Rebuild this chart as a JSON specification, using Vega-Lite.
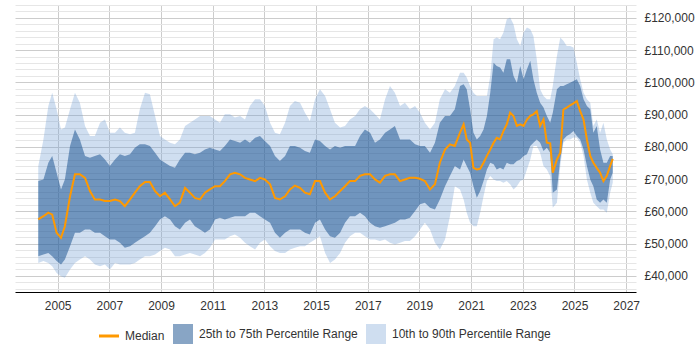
{
  "$schema": "https://vega.github.io/schema/vega-lite/v6.json",
  "width": 621,
  "height": 287,
  "autosize": {"type": "none"},
  "padding": {"left": 15, "top": 5, "right": 64, "bottom": 58},
  "background": "white",
  "config": {
    "view": {"stroke": null},
    "font": "Liberation Sans",
    "axisY": {
      "orient": "right",
      "grid": true,
      "domain": false,
      "ticks": false,
      "labelPadding": 8,
      "labelFontSize": 12,
      "labelColor": "#333333",
      "labelOverlap": false,
      "labelBound": false,
      "labelFlush": false,
      "zindex": 0
    }
  },
  "data": {
    "values": [
      {"t": 2004.25, "p10": 44000, "p25": 46100, "p50": 57500, "p75": 69400, "p90": 74000},
      {"t": 2004.45, "p10": 44600, "p25": 46600, "p50": 58500, "p75": 69900, "p90": 82300},
      {"t": 2004.64, "p10": 44000, "p25": 47100, "p50": 59600, "p75": 75100, "p90": 92700},
      {"t": 2004.79, "p10": 43000, "p25": 46100, "p50": 59000, "p75": 77200, "p90": 96800},
      {"t": 2004.96, "p10": 40900, "p25": 44600, "p50": 53400, "p75": 72000, "p90": 91700},
      {"t": 2005.13, "p10": 39900, "p25": 43500, "p50": 51800, "p75": 66800, "p90": 85400},
      {"t": 2005.28, "p10": 39400, "p25": 45100, "p50": 55400, "p75": 69900, "p90": 86000},
      {"t": 2005.48, "p10": 42000, "p25": 49200, "p50": 64700, "p75": 80300, "p90": 91700},
      {"t": 2005.67, "p10": 44000, "p25": 53400, "p50": 71500, "p75": 85400, "p90": 96800},
      {"t": 2005.86, "p10": 45100, "p25": 53400, "p50": 71500, "p75": 82300, "p90": 93700},
      {"t": 2006.06, "p10": 46100, "p25": 54400, "p50": 70400, "p75": 77200, "p90": 86500},
      {"t": 2006.25, "p10": 45100, "p25": 54400, "p50": 66300, "p75": 76600, "p90": 83400},
      {"t": 2006.44, "p10": 43500, "p25": 53400, "p50": 63700, "p75": 77200, "p90": 83400},
      {"t": 2006.64, "p10": 43000, "p25": 53400, "p50": 63700, "p75": 77700, "p90": 87500},
      {"t": 2006.83, "p10": 43500, "p25": 52300, "p50": 63200, "p75": 76100, "p90": 88500},
      {"t": 2007.02, "p10": 42000, "p25": 51300, "p50": 63200, "p75": 74100, "p90": 84400},
      {"t": 2007.22, "p10": 44000, "p25": 51300, "p50": 63700, "p75": 76100, "p90": 84400},
      {"t": 2007.41, "p10": 43500, "p25": 50300, "p50": 63200, "p75": 77700, "p90": 86000},
      {"t": 2007.6, "p10": 43500, "p25": 48700, "p50": 61600, "p75": 77200, "p90": 84400},
      {"t": 2007.8, "p10": 43500, "p25": 49200, "p50": 63700, "p75": 77700, "p90": 83900},
      {"t": 2007.99, "p10": 44000, "p25": 50300, "p50": 65800, "p75": 79700, "p90": 84400},
      {"t": 2008.18, "p10": 45100, "p25": 51300, "p50": 67800, "p75": 80800, "p90": 91700},
      {"t": 2008.38, "p10": 46100, "p25": 52300, "p50": 69100, "p75": 80800, "p90": 96800},
      {"t": 2008.57, "p10": 46100, "p25": 53400, "p50": 69100, "p75": 80300, "p90": 96300},
      {"t": 2008.77, "p10": 46600, "p25": 55400, "p50": 66300, "p75": 78200, "p90": 89600},
      {"t": 2008.96, "p10": 47700, "p25": 57500, "p50": 64700, "p75": 76100, "p90": 83400},
      {"t": 2009.15, "p10": 48700, "p25": 58500, "p50": 65800, "p75": 75100, "p90": 82300},
      {"t": 2009.35, "p10": 48200, "p25": 57500, "p50": 63700, "p75": 74100, "p90": 81300},
      {"t": 2009.54, "p10": 46100, "p25": 55400, "p50": 61600, "p75": 73500, "p90": 80800},
      {"t": 2009.73, "p10": 46100, "p25": 54400, "p50": 62700, "p75": 76100, "p90": 82300},
      {"t": 2009.93, "p10": 46600, "p25": 56500, "p50": 67300, "p75": 78200, "p90": 86500},
      {"t": 2010.12, "p10": 47100, "p25": 57500, "p50": 65800, "p75": 78200, "p90": 87500},
      {"t": 2010.31, "p10": 46600, "p25": 55400, "p50": 64200, "p75": 77700, "p90": 88500},
      {"t": 2010.51, "p10": 46100, "p25": 54400, "p50": 63700, "p75": 78200, "p90": 89600},
      {"t": 2010.7, "p10": 47100, "p25": 53400, "p50": 65800, "p75": 79200, "p90": 89600},
      {"t": 2010.89, "p10": 48700, "p25": 54400, "p50": 66800, "p75": 79700, "p90": 89600},
      {"t": 2011.09, "p10": 51300, "p25": 57500, "p50": 67800, "p75": 79200, "p90": 88500},
      {"t": 2011.28, "p10": 51300, "p25": 58000, "p50": 67800, "p75": 78700, "p90": 87500},
      {"t": 2011.47, "p10": 51300, "p25": 57500, "p50": 69400, "p75": 80300, "p90": 90100},
      {"t": 2011.67, "p10": 52300, "p25": 58000, "p50": 71500, "p75": 82300, "p90": 90100},
      {"t": 2011.86, "p10": 52800, "p25": 58500, "p50": 72000, "p75": 81800, "p90": 89100},
      {"t": 2012.06, "p10": 51800, "p25": 58500, "p50": 71500, "p75": 81300, "p90": 89600},
      {"t": 2012.25, "p10": 50300, "p25": 58500, "p50": 70400, "p75": 82300, "p90": 88500},
      {"t": 2012.44, "p10": 49200, "p25": 59600, "p50": 69900, "p75": 81300, "p90": 92700},
      {"t": 2012.64, "p10": 48200, "p25": 59600, "p50": 69400, "p75": 82800, "p90": 94800},
      {"t": 2012.83, "p10": 50300, "p25": 58500, "p50": 70400, "p75": 83400, "p90": 94800},
      {"t": 2013.02, "p10": 51300, "p25": 57500, "p50": 69900, "p75": 81800, "p90": 92700},
      {"t": 2013.22, "p10": 49200, "p25": 56500, "p50": 68400, "p75": 80300, "p90": 87500},
      {"t": 2013.41, "p10": 47700, "p25": 53400, "p50": 64200, "p75": 77200, "p90": 84400},
      {"t": 2013.6, "p10": 47100, "p25": 51800, "p50": 63700, "p75": 75600, "p90": 83900},
      {"t": 2013.8, "p10": 47100, "p25": 53400, "p50": 64700, "p75": 77200, "p90": 87500},
      {"t": 2013.99, "p10": 48200, "p25": 54400, "p50": 66800, "p75": 80300, "p90": 92700},
      {"t": 2014.18, "p10": 48700, "p25": 54400, "p50": 68000, "p75": 80300, "p90": 94200},
      {"t": 2014.38, "p10": 49200, "p25": 54400, "p50": 67300, "p75": 79700, "p90": 93700},
      {"t": 2014.57, "p10": 49200, "p25": 53400, "p50": 65800, "p75": 78700, "p90": 90600},
      {"t": 2014.76, "p10": 50300, "p25": 52800, "p50": 65300, "p75": 78200, "p90": 88000},
      {"t": 2014.96, "p10": 51300, "p25": 56500, "p50": 69400, "p75": 82300, "p90": 94800},
      {"t": 2015.15, "p10": 52300, "p25": 57500, "p50": 69400, "p75": 81800, "p90": 97900},
      {"t": 2015.35, "p10": 47100, "p25": 54400, "p50": 65800, "p75": 80300, "p90": 95800},
      {"t": 2015.54, "p10": 44000, "p25": 52300, "p50": 63700, "p75": 79200, "p90": 91700},
      {"t": 2015.73, "p10": 45100, "p25": 51800, "p50": 64700, "p75": 80300, "p90": 87500},
      {"t": 2015.93, "p10": 47100, "p25": 53400, "p50": 66300, "p75": 79700, "p90": 86000},
      {"t": 2016.12, "p10": 50300, "p25": 56500, "p50": 67800, "p75": 80300, "p90": 86500},
      {"t": 2016.31, "p10": 52300, "p25": 58500, "p50": 69400, "p75": 80300, "p90": 88500},
      {"t": 2016.51, "p10": 53400, "p25": 58500, "p50": 69400, "p75": 80300, "p90": 89600},
      {"t": 2016.7, "p10": 53400, "p25": 59600, "p50": 71000, "p75": 83400, "p90": 91700},
      {"t": 2016.89, "p10": 52300, "p25": 58500, "p50": 71500, "p75": 85400, "p90": 92700},
      {"t": 2017.09, "p10": 51300, "p25": 56500, "p50": 71500, "p75": 84400, "p90": 91700},
      {"t": 2017.28, "p10": 51300, "p25": 55400, "p50": 69900, "p75": 81300, "p90": 90100},
      {"t": 2017.47, "p10": 50800, "p25": 54900, "p50": 68900, "p75": 82300, "p90": 88500},
      {"t": 2017.67, "p10": 51300, "p25": 55400, "p50": 71000, "p75": 84400, "p90": 94800},
      {"t": 2017.86, "p10": 50300, "p25": 55900, "p50": 71500, "p75": 85400, "p90": 98900},
      {"t": 2018.05, "p10": 49700, "p25": 56500, "p50": 71500, "p75": 86500, "p90": 96800},
      {"t": 2018.25, "p10": 50300, "p25": 57500, "p50": 69400, "p75": 82300, "p90": 92700},
      {"t": 2018.44, "p10": 50800, "p25": 57500, "p50": 69900, "p75": 82300, "p90": 93700},
      {"t": 2018.63, "p10": 50800, "p25": 58000, "p50": 70400, "p75": 82300, "p90": 91700},
      {"t": 2018.83, "p10": 52300, "p25": 60100, "p50": 70400, "p75": 80800, "p90": 92700},
      {"t": 2019.02, "p10": 54400, "p25": 62200, "p50": 70100, "p75": 80300, "p90": 90600},
      {"t": 2019.21, "p10": 56500, "p25": 62700, "p50": 69400, "p75": 80300, "p90": 87500},
      {"t": 2019.41, "p10": 54400, "p25": 61100, "p50": 66800, "p75": 78200, "p90": 85400},
      {"t": 2019.6, "p10": 50300, "p25": 60600, "p50": 68400, "p75": 81300, "p90": 87500},
      {"t": 2019.79, "p10": 48200, "p25": 63700, "p50": 75100, "p75": 87500, "p90": 94800},
      {"t": 2019.99, "p10": 51300, "p25": 67800, "p50": 79200, "p75": 89600, "p90": 97900},
      {"t": 2020.18, "p10": 58500, "p25": 71000, "p50": 80800, "p75": 89600, "p90": 96800},
      {"t": 2020.37, "p10": 67800, "p25": 74100, "p50": 80300, "p75": 91700, "p90": 98900},
      {"t": 2020.57, "p10": 66800, "p25": 73000, "p50": 84400, "p75": 98900, "p90": 103000},
      {"t": 2020.71, "p10": 63700, "p25": 76100, "p50": 87000, "p75": 99400, "p90": 103000},
      {"t": 2020.83, "p10": 59600, "p25": 74100, "p50": 82300, "p75": 97900, "p90": 101500},
      {"t": 2020.96, "p10": 56500, "p25": 72000, "p50": 81300, "p75": 91700, "p90": 98900},
      {"t": 2021.09, "p10": 55400, "p25": 67800, "p50": 73500, "p75": 84400, "p90": 96800},
      {"t": 2021.22, "p10": 55400, "p25": 64200, "p50": 73000, "p75": 82300, "p90": 95800},
      {"t": 2021.35, "p10": 59600, "p25": 66300, "p50": 73200, "p75": 83400, "p90": 95800},
      {"t": 2021.48, "p10": 64700, "p25": 69400, "p50": 75100, "p75": 85400, "p90": 95800},
      {"t": 2021.61, "p10": 69400, "p25": 73000, "p50": 77200, "p75": 89600, "p90": 95800},
      {"t": 2021.74, "p10": 71000, "p25": 75100, "p50": 79200, "p75": 96800, "p90": 102000},
      {"t": 2021.87, "p10": 69900, "p25": 74600, "p50": 81300, "p75": 106100, "p90": 113400},
      {"t": 2021.99, "p10": 69400, "p25": 73000, "p50": 82800, "p75": 105100, "p90": 113900},
      {"t": 2022.12, "p10": 69400, "p25": 73500, "p50": 82300, "p75": 104600, "p90": 113400},
      {"t": 2022.25, "p10": 68900, "p25": 73000, "p50": 84900, "p75": 103000, "p90": 115500},
      {"t": 2022.38, "p10": 69400, "p25": 75100, "p50": 87000, "p75": 107200, "p90": 119600},
      {"t": 2022.51, "p10": 68400, "p25": 74600, "p50": 90600, "p75": 107200, "p90": 120100},
      {"t": 2022.64, "p10": 66800, "p25": 74600, "p50": 89600, "p75": 102000, "p90": 118000},
      {"t": 2022.77, "p10": 67800, "p25": 75600, "p50": 86500, "p75": 99900, "p90": 113400},
      {"t": 2022.9, "p10": 69400, "p25": 76100, "p50": 87000, "p75": 105100, "p90": 111300},
      {"t": 2023.03, "p10": 69900, "p25": 77200, "p50": 86500, "p75": 101000, "p90": 115500},
      {"t": 2023.16, "p10": 73000, "p25": 77700, "p50": 88500, "p75": 104100, "p90": 117000},
      {"t": 2023.29, "p10": 76100, "p25": 80300, "p50": 89600, "p75": 106700, "p90": 116500},
      {"t": 2023.41, "p10": 80300, "p25": 81300, "p50": 90100, "p75": 101000, "p90": 114400},
      {"t": 2023.54, "p10": 80300, "p25": 82300, "p50": 91100, "p75": 96800, "p90": 107200},
      {"t": 2023.67, "p10": 78200, "p25": 81300, "p50": 86500, "p75": 93700, "p90": 97900},
      {"t": 2023.8, "p10": 74100, "p25": 78700, "p50": 88500, "p75": 92200, "p90": 95800},
      {"t": 2023.93, "p10": 73000, "p25": 79700, "p50": 81300, "p75": 89600, "p90": 94800},
      {"t": 2024.06, "p10": 70900, "p25": 78200, "p50": 81100, "p75": 87500, "p90": 94800},
      {"t": 2024.16, "p10": 61100, "p25": 65800, "p50": 72000, "p75": 90600, "p90": 98900},
      {"t": 2024.32, "p10": 62700, "p25": 66800, "p50": 76100, "p75": 97900, "p90": 108200},
      {"t": 2024.45, "p10": 74100, "p25": 76100, "p50": 78200, "p75": 98900, "p90": 113900},
      {"t": 2024.57, "p10": 81300, "p25": 82300, "p50": 91600, "p75": 98900, "p90": 112900},
      {"t": 2024.7, "p10": 82300, "p25": 83400, "p50": 92200, "p75": 99400, "p90": 111300},
      {"t": 2024.83, "p10": 82300, "p25": 84000, "p50": 92900, "p75": 99900, "p90": 111300},
      {"t": 2024.96, "p10": 82900, "p25": 84900, "p50": 93500, "p75": 100400, "p90": 110800},
      {"t": 2025.09, "p10": 82800, "p25": 83400, "p50": 94200, "p75": 101000, "p90": 106100},
      {"t": 2025.22, "p10": 81300, "p25": 82300, "p50": 91100, "p75": 98900, "p90": 101000},
      {"t": 2025.35, "p10": 77200, "p25": 79200, "p50": 88500, "p75": 94800, "p90": 96800},
      {"t": 2025.48, "p10": 69900, "p25": 74100, "p50": 82300, "p75": 92700, "p90": 94800},
      {"t": 2025.61, "p10": 65800, "p25": 69900, "p50": 77200, "p75": 91700, "p90": 93700},
      {"t": 2025.73, "p10": 62700, "p25": 67800, "p50": 75100, "p75": 84400, "p90": 86500},
      {"t": 2025.86, "p10": 61600, "p25": 63700, "p50": 73500, "p75": 86500, "p90": 88500},
      {"t": 2025.99, "p10": 60600, "p25": 62700, "p50": 72000, "p75": 79200, "p90": 84400},
      {"t": 2026.12, "p10": 60600, "p25": 63700, "p50": 69400, "p75": 75100, "p90": 87500},
      {"t": 2026.25, "p10": 59600, "p25": 62700, "p50": 71000, "p75": 75100, "p90": 82300},
      {"t": 2026.38, "p10": 65800, "p25": 69900, "p50": 74100, "p75": 77200, "p90": 79200},
      {"t": 2026.48, "p10": 68900, "p25": 72000, "p50": 76300, "p75": 77200, "p90": 77700}
    ]
  },
  "encoding": {
    "x": {
      "field": "t",
      "type": "quantitative",
      "scale": {"domain": [2003.35, 2027.38], "nice": false, "zero": false},
      "axis": {
        "title": null,
        "values": [2005, 2007, 2009, 2011, 2013, 2015, 2017, 2019, 2021, 2023, 2025, 2027],
        "format": "d",
        "grid": true,
        "gridColor": "#cccccc",
        "ticks": false,
        "domain": true,
        "domainColor": "#000000",
        "domainWidth": 1.2,
        "labelPadding": 8,
        "labelFontSize": 12,
        "labelColor": "#333333",
        "labelFlush": false,
        "labelOverlap": false,
        "zindex": 0
      }
    }
  },
  "layer": [
    {
      "mark": {"type": "area"},
      "encoding": {
        "y": {
          "field": "p10",
          "type": "quantitative",
          "title": null,
          "scale": {"domain": [35000, 124000], "nice": false, "zero": false},
          "axis": {
            "values": [36000, 38000, 40000, 42000, 44000, 46000, 48000, 50000, 52000, 54000, 56000, 58000, 60000, 62000, 64000, 66000, 68000, 70000, 72000, 74000, 76000, 78000, 80000, 82000, 84000, 86000, 88000, 90000, 92000, 94000, 96000, 98000, 100000, 102000, 104000, 106000, 108000, 110000, 112000, 114000, 116000, 118000, 120000, 122000, 124000],
            "labelExpr": "datum.value % 10000 === 0 ? '£' + format(datum.value, ',') : ''",
            "gridColor": {"condition": {"test": "datum.value % 10000 === 0", "value": "#cccccc"}, "value": "#e6e6e6"}
          }
        },
        "y2": {"field": "p90"},
        "color": {
          "datum": "10th to 90th Percentile Range",
          "type": "nominal",
          "scale": {
            "domain": ["Median", "25th to 75th Percentile Range", "10th to 90th Percentile Range"],
            "range": ["#ff9900", "rgba(17,75,139,0.5)", "rgba(109,155,208,0.33)"]
          },
          "legend": {
            "title": null,
            "orient": "none",
            "direction": "horizontal",
            "legendX": 88,
            "legendY": 323,
            "labelFont": "Liberation Sans",
            "labelFontSize": 12,
            "labelColor": "#333333",
            "labelOffset": 10,
            "columnPadding": 8,
            "symbolSize": 400,
            "symbolType": "square",
            "encode": {
              "symbols": {
                "update": {
                  "shape": {"signal": "datum.value === 'Median' ? 'stroke' : 'square'"},
                  "fill": {"signal": "datum.value === 'Median' ? 'transparent' : scale('color', datum.value)"},
                  "stroke": {"signal": "datum.value === 'Median' ? '#ff9900' : 'transparent'"},
                  "strokeOpacity": {"signal": "datum.value === 'Median' ? 1 : 0"},
                  "strokeWidth": {"signal": "datum.value === 'Median' ? 3 : 0"},
                  "opacity": {"value": 1}
                }
              }
            }
          }
        }
      }
    },
    {
      "mark": {"type": "area"},
      "encoding": {
        "y": {
          "field": "p25",
          "type": "quantitative",
          "title": null,
          "axis": {
            "values": [36000, 38000, 40000, 42000, 44000, 46000, 48000, 50000, 52000, 54000, 56000, 58000, 60000, 62000, 64000, 66000, 68000, 70000, 72000, 74000, 76000, 78000, 80000, 82000, 84000, 86000, 88000, 90000, 92000, 94000, 96000, 98000, 100000, 102000, 104000, 106000, 108000, 110000, 112000, 114000, 116000, 118000, 120000, 122000, 124000],
            "labelExpr": "datum.value % 10000 === 0 ? '£' + format(datum.value, ',') : ''",
            "gridColor": {"condition": {"test": "datum.value % 10000 === 0", "value": "#cccccc"}, "value": "#e6e6e6"}
          }
        },
        "y2": {"field": "p75"},
        "color": {"datum": "25th to 75th Percentile Range", "type": "nominal"}
      }
    },
    {
      "mark": {"type": "line", "strokeWidth": 2},
      "encoding": {
        "y": {
          "field": "p50",
          "type": "quantitative",
          "title": null,
          "axis": {
            "values": [36000, 38000, 40000, 42000, 44000, 46000, 48000, 50000, 52000, 54000, 56000, 58000, 60000, 62000, 64000, 66000, 68000, 70000, 72000, 74000, 76000, 78000, 80000, 82000, 84000, 86000, 88000, 90000, 92000, 94000, 96000, 98000, 100000, 102000, 104000, 106000, 108000, 110000, 112000, 114000, 116000, 118000, 120000, 122000, 124000],
            "labelExpr": "datum.value % 10000 === 0 ? '£' + format(datum.value, ',') : ''",
            "gridColor": {"condition": {"test": "datum.value % 10000 === 0", "value": "#cccccc"}, "value": "#e6e6e6"}
          }
        },
        "color": {"datum": "Median", "type": "nominal"}
      }
    }
  ]
}
